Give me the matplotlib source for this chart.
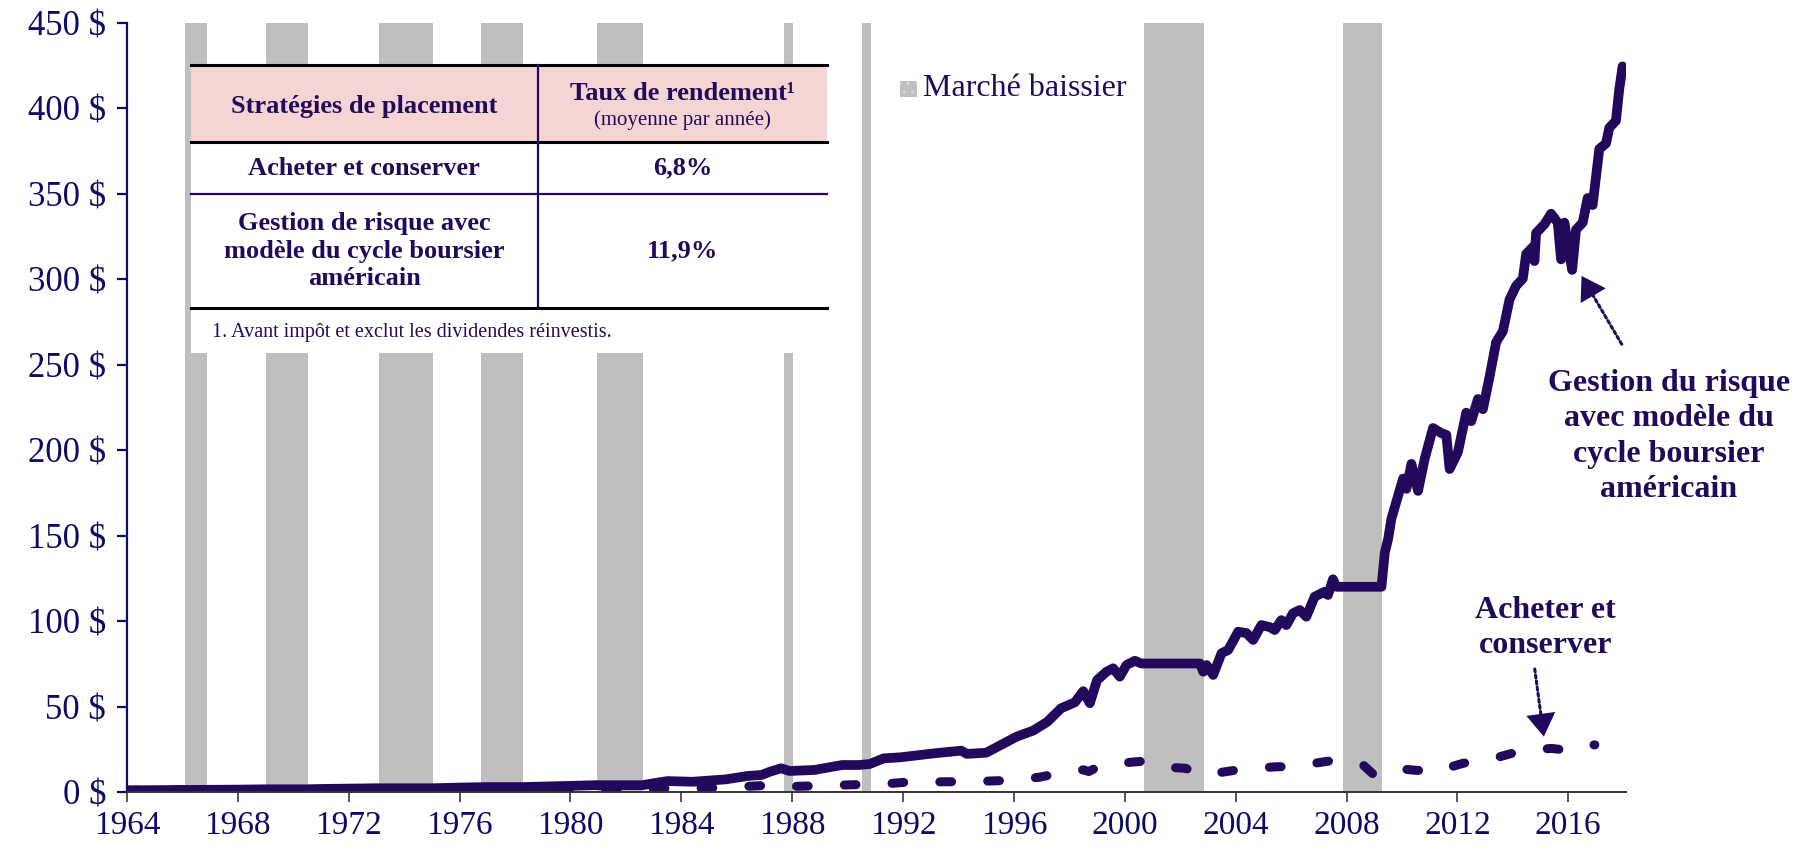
import matplotlib
matplotlib.use("Agg")
import matplotlib.pyplot as plt
from matplotlib.patches import Rectangle
from matplotlib.lines import Line2D

plt.rcParams["font.family"] = ["Liberation Serif", "DejaVu Serif"]
plt.rcParams["hatch.linewidth"] = 0.8

# périodes de marché baissier (années décimales)
bear_start = [1966.09, 1969.01, 1973.10, 1976.77, 1980.94, 1987.69, 1990.51, 2000.69, 2007.86]
bear_end = [1966.87, 1970.52, 1975.03, 1978.27, 1982.60, 1988.03, 1990.86, 2002.85, 2009.27]

# gestion de risque avec modèle du cycle boursier
risk_years = [
    1964.0, 1965.0, 1966.0, 1967.0, 1968.0, 1969.0, 1970.5, 1971.0, 1972.0, 1973.0,
    1975.0, 1976.0, 1977.0, 1978.3, 1979.0, 1980.0, 1980.9, 1982.6, 1983.1, 1983.5,
    1984.4, 1985.6, 1986.4, 1986.9, 1987.2, 1987.6, 1987.9, 1988.8, 1989.8, 1990.4,
    1990.8, 1991.3, 1991.9, 1993.1, 1994.1, 1994.3, 1995.0, 1996.1, 1996.7, 1997.2,
    1997.7, 1998.2, 1998.5, 1998.74, 1999.0, 1999.34, 1999.58, 1999.82, 2000.06, 2000.36,
    2000.6, 2002.71, 2002.83, 2002.95, 2003.19, 2003.49, 2003.73, 2004.09, 2004.39, 2004.63,
    2004.93, 2005.23, 2005.41, 2005.65, 2005.83, 2006.07, 2006.31, 2006.55, 2006.85, 2007.21,
    2007.33, 2007.51, 2007.63, 2009.26, 2009.38, 2009.5, 2009.62, 2009.92, 2010.04, 2010.16,
    2010.34, 2010.58, 2010.82, 2011.12, 2011.42, 2011.6, 2011.72, 2012.02, 2012.32, 2012.5,
    2012.74, 2012.92, 2013.16, 2013.4, 2013.64, 2013.88, 2014.12, 2014.36, 2014.48, 2014.72,
    2014.78, 2014.84, 2015.14, 2015.38, 2015.62, 2015.74, 2015.86, 2016.02, 2016.14, 2016.28,
    2016.52, 2016.7, 2016.88, 2017.12, 2017.36, 2017.48, 2017.72, 2017.84, 2017.96,
]
risk_values = [
    1.0, 1.1, 1.2, 1.3, 1.4, 1.6, 1.6, 1.8, 2.0, 2.2,
    2.2, 2.6, 2.9, 2.9, 3.2, 3.6, 4.0, 4.0, 5.4, 6.4,
    6.0, 7.4, 9.4, 10.0, 11.9, 13.9, 12.3, 12.9, 15.8, 15.8,
    16.4, 19.7, 20.3, 22.6, 24.2, 22.3, 23.0, 32.4, 36.0, 41.0,
    49.0, 52.5, 59.0, 52.0, 65.5, 70.4, 72.4, 67.5, 74.3, 76.8,
    75.2, 75.2, 70.4, 74.3, 68.5, 81.2, 83.1, 93.8, 93.0, 89.0,
    97.7, 96.5, 94.8, 100.6, 97.7, 104.6, 106.5, 102.6, 114.3, 117.2,
    115.3, 124.5, 120.1, 120.1, 140.0, 148.0, 160.0, 176.7, 183.4, 177.4,
    192.0, 176.2, 195.0, 213.0, 210.0, 209.0, 189.0, 199.0, 222.0, 217.0,
    230.0, 224.0, 243.0, 263.4, 269.6, 288.1, 296.3, 300.4, 314.8, 318.9,
    310.7, 327.1, 332.2, 338.4, 333.2, 311.7, 333.2, 316.8, 305.5, 329.1,
    333.2, 347.6, 343.5, 376.3, 379.5, 388.7, 392.8, 411.3, 424.6,
]

# acheter et conserver
hold_years = [
    1964.0, 1966.0, 1966.8, 1968.0, 1969.0, 1970.5, 1972.9, 1974.8, 1976.7, 1978.2,
    1980.9, 1982.6, 1983.5, 1985.0, 1986.0, 1987.6, 1987.9, 1989.0, 1990.5, 1990.8,
    1992.0, 1993.5, 1994.5, 1995.8, 1996.9, 1997.7, 1998.5, 1998.7, 1999.1, 1999.5,
    2000.7, 2001.1, 2001.7, 2002.2, 2002.6, 2003.2, 2003.8, 2004.3, 2005.5, 2006.0,
    2007.2, 2007.6, 2008.6, 2008.96, 2009.2, 2010.1, 2010.58, 2011.3, 2011.66, 2012.2,
    2013.3, 2014.0, 2014.9, 2015.4, 2016.1, 2016.5, 2016.96,
]
hold_values = [
    1.0, 1.2, 1.0, 1.3, 1.4, 1.0, 1.6, 0.9, 1.4, 1.2,
    1.8, 1.4, 2.2, 2.4, 3.0, 4.3, 3.2, 3.7, 4.4, 4.0,
    5.6, 6.0, 6.1, 6.8, 8.6, 11.2, 13.0, 12.0, 15.2, 16.4,
    18.1, 15.8, 14.3, 13.9, 10.5, 10.8, 12.3, 13.5, 14.8, 14.8,
    17.7, 18.7, 15.8, 10.5, 9.0, 13.3, 12.6, 15.8, 14.2, 16.8,
    19.6, 22.8, 25.0, 25.5, 24.2, 26.9, 27.6,
]

x_ticks = list(range(1964, 2017, 4))
y_ticks = list(range(0, 451, 50))

table_rows = [
    ("Acheter et conserver", "6,8%"),
    ("Gestion de risque avec\nmodèle du cycle boursier\naméricain", "11,9%"),
]

LINE = "#22095c"
TXT = "#220a5a"
NAVY = "#0c0c66"
GRAY = "#bfbfbf"

fig = plt.figure(figsize=(17.96, 8.52), dpi=100)
ax = fig.add_axes([0.0707, 0.0704, 0.8346, 0.9026])

for s, e in zip(bear_start, bear_end):
    ax.axvspan(s, e, color=GRAY, lw=0, zorder=0)

ax.plot(hold_years, hold_values, color=LINE, lw=6.5, dashes=(1.3, 4.0),
        dash_capstyle="round", solid_capstyle="round", zorder=2)
ax.plot(risk_years, risk_values, color=LINE, lw=7, solid_capstyle="round",
        solid_joinstyle="round", zorder=2.5)

ax.set_xlim(1964, 2018.08)
ax.set_ylim(0, 450)
ax.set_xticks(x_ticks)
ax.set_yticks(y_ticks)
ax.set_yticklabels([f"{v} $" for v in y_ticks])
for sp in ["top", "right"]:
    ax.spines[sp].set_visible(False)
ax.spines["left"].set_color(NAVY)
ax.spines["left"].set_linewidth(1.6)
ax.spines["bottom"].set_color("#333333")
ax.spines["bottom"].set_linewidth(1.4)
ax.tick_params(axis="y", length=7, width=1.6, color=NAVY, labelcolor=NAVY,
               labelsize=25, pad=8)
ax.tick_params(axis="x", length=7, width=1.4, color="#555555", labelcolor=NAVY,
               labelsize=24, pad=6)

# tableau des rendements
T = ax.transAxes
x0, x1, xm = 0.0427, 0.467, 0.274
y_top, y_head, y_r1, y_r2, y_bot = 0.9454, 0.8453, 0.7776, 0.6294, 0.5709
ax.add_patch(Rectangle((x0, y_bot), x1 - x0, y_top - y_bot, transform=T,
                       facecolor="white", edgecolor="none", zorder=3))
ax.add_patch(Rectangle((x0, y_head), x1 - x0, y_top - y_head, transform=T,
                       facecolor="#f5d4d4", edgecolor="none", zorder=3))
for yy, c, w in [(y_top, "black", 2.2), (y_head, "black", 2.2),
                 (y_r1, LINE, 1.6), (y_r2, "black", 2.2)]:
    ax.add_line(Line2D([x0, x1], [yy, yy], transform=T, color=c, lw=w, zorder=4))
ax.add_line(Line2D([xm, xm], [y_r2, y_top], transform=T, color=LINE, lw=1.6, zorder=4))

cl, cr = (x0 + xm) / 2, (xm + x1) / 2
ax.text(cl, 0.8914, "Stratégies de placement", transform=T, ha="center", va="center",
        fontsize=19, fontweight="bold", color=TXT, zorder=5)
ax.text(cr, 0.9077, "Taux de rendement¹", transform=T, ha="center", va="center",
        fontsize=19, fontweight="bold", color=TXT, zorder=5)
ax.text(cr, 0.8739, "(moyenne par année)", transform=T, ha="center", va="center",
        fontsize=15, color=TXT, zorder=5)
for (label, rate), yy in zip(table_rows, [0.8114, 0.7035]):
    ax.text(cl, yy, label, transform=T, ha="center", va="center", multialignment="center",
            fontsize=19, fontweight="bold", color=TXT, linespacing=1.25, zorder=5)
    ax.text(cr, yy, rate, transform=T, ha="center", va="center",
            fontsize=19, fontweight="bold", color=TXT, zorder=5)
ax.text(0.0567, 0.5969, "1. Avant impôt et exclut les dividendes réinvestis.", transform=T,
        ha="left", va="center", fontsize=14.5, color=TXT, zorder=5)

# légende
fig.patches.append(Rectangle((0.5011, 0.8862), 0.0095, 0.0188, transform=fig.transFigure,
                             facecolor=GRAY, edgecolor="#dcdcdc", hatch="..", lw=0))
fig.text(0.5139, 0.8967, "Marché baissier", ha="left", va="center", fontsize=23, color=TXT)


def dotted_arrow(tip, tail):
    # ligne pointillée puis tête pleine
    ax.annotate("", xy=tip, xytext=tail,
                arrowprops=dict(arrowstyle="-", linestyle=(0, (1, 1)), lw=2.2,
                                color=LINE, shrinkA=0, shrinkB=6))
    near = (tip[0] + (tail[0] - tip[0]) * 0.3, tip[1] + (tail[1] - tip[1]) * 0.3)
    ax.annotate("", xy=tip, xytext=near,
                arrowprops=dict(arrowstyle="-|>,head_length=0.55,head_width=0.35",
                                lw=0, color=LINE, mutation_scale=30, shrinkA=0, shrinkB=0))


# annotations
ax.text(2019.63, 208, "Gestion du risque\navec modèle du\ncycle boursier\naméricain",
        ha="center", va="center", multialignment="center", fontsize=23,
        fontweight="bold", color=TXT, linespacing=1.28, clip_on=False)
dotted_arrow((2016.48, 302), (2017.93, 262))
ax.text(2015.19, 96, "Acheter et\nconserver", ha="center", va="center",
        multialignment="center", fontsize=23, fontweight="bold", color=TXT,
        linespacing=1.3, clip_on=False)
dotted_arrow((2015.12, 32.4), (2014.79, 72))

fig.savefig("out.png", dpi=100)
